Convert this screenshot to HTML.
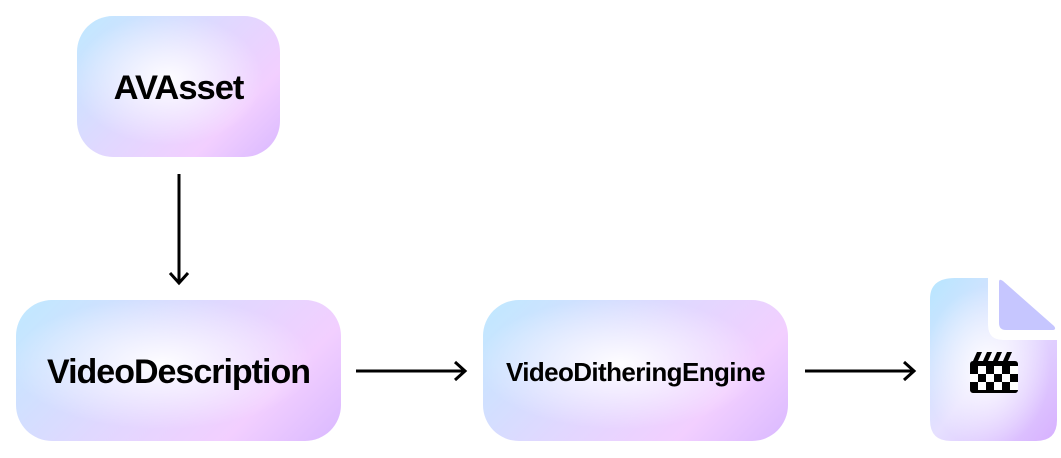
<!DOCTYPE html>
<html><head><style>
body{margin:0;width:1061px;height:458px;background:#fff;position:relative;overflow:hidden;font-family:"Liberation Sans",sans-serif}
.b{position:absolute;display:flex;align-items:center;justify-content:center;font-weight:bold;color:#000;padding-top:3px;box-sizing:border-box;
background:radial-gradient(ellipse at 45% 45%,rgba(255,255,255,0.95) 0%,rgba(255,255,255,0) 60%),linear-gradient(135deg,#bfe9ff 0%,#e0d8ff 45%,#f2cfff 75%,#d9b8ff 100%);}
</style></head><body>
<div class="b" style="left:77px;top:16px;width:203px;height:141px;border-radius:36px;font-size:34.5px;letter-spacing:-1px">AVAsset</div>
<div class="b" style="left:16px;top:300px;width:325px;height:141px;border-radius:36px;font-size:34px;letter-spacing:-1px">VideoDescription</div>
<div class="b" style="left:483px;top:300px;width:305px;height:141px;border-radius:36px;font-size:26px;letter-spacing:-0.6px">VideoDitheringEngine</div>
<svg width="1061" height="458" style="position:absolute;left:0;top:0">
<defs>
<linearGradient id="g" x1="0" y1="0" x2="1" y2="1"><stop offset="0" stop-color="#b7e6ff"/><stop offset="0.5" stop-color="#e6e0ff"/><stop offset="1" stop-color="#d7b0ff"/></linearGradient>
<radialGradient id="r" cx="0.45" cy="0.55" r="0.5"><stop offset="0" stop-color="#fff" stop-opacity="0.95"/><stop offset="1" stop-color="#fff" stop-opacity="0"/></radialGradient>
</defs>
<g stroke="#000" stroke-width="3" fill="none">
<line x1="179" y1="174" x2="179" y2="283"/><polyline points="170,273 179,283 188,273"/>
<line x1="356" y1="371" x2="465" y2="371"/><polyline points="455,362 465,371 455,380"/>
<line x1="805" y1="371" x2="914" y2="371"/><polyline points="904,362 914,371 904,380"/>
</g>
<path d="M955,278 H988 V325 Q988,340 1003,340 H1057 V420 Q1057,441 1036,441 H951 Q930,441 930,420 V299 Q930,278 955,278 Z" fill="url(#g)"/>
<path d="M955,278 H988 V325 Q988,340 1003,340 H1057 V420 Q1057,441 1036,441 H951 Q930,441 930,420 V299 Q930,278 955,278 Z" fill="url(#r)"/>
<path d="M999,282 Q999,278 1003,281 L1054,326 Q1057,330 1052,330 L1006,330 Q999,330 999,323 Z" fill="#c6c6ff"/>
<g>
<rect x="970" y="361" width="48" height="32" rx="3" fill="#000"/>
<path d="M973,361 l4,-9 h5 l-4,9z M983,361 l4,-9 h5 l-4,9z M993,361 l4,-9 h5 l-4,9z M1003,361 l4,-9 h5 l-4,9z" fill="#000"/>
<g fill="#fff">
<rect x="978" y="366" width="8" height="8"/><rect x="994" y="366" width="8" height="8"/><rect x="1010" y="366" width="8" height="8"/>
<rect x="970" y="374" width="8" height="8"/><rect x="986" y="374" width="8" height="8"/><rect x="1002" y="374" width="8" height="8"/>
<rect x="978" y="382" width="8" height="8"/><rect x="994" y="382" width="8" height="8"/><rect x="1010" y="382" width="8" height="8"/>
</g></g>
</svg>
</body></html>
